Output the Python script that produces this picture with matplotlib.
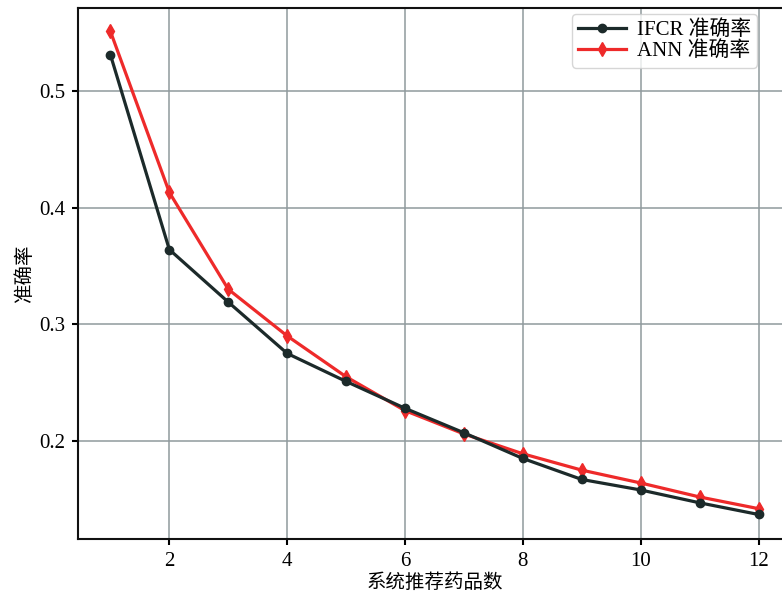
import numpy as np
import matplotlib.pyplot as plt

plt.rcParams['font.family'] = ['Liberation Serif', 'Noto Sans CJK SC']

# number of recommended drugs
n_drugs = [1, 2, 3, 4, 5, 6, 7, 8, 9, 10, 11, 12]
ifcr_acc = [0.531, 0.364, 0.319, 0.275, 0.251, 0.228, 0.207, 0.185, 0.167, 0.158, 0.147, 0.137]
ann_acc = [0.551, 0.413, 0.330, 0.290, 0.255, 0.226, 0.206, 0.189, 0.175, 0.164, 0.152, 0.142]

fig = plt.figure(figsize=(7.82, 5.98), dpi=100)
ax = fig.add_axes([78 / 782, 59 / 598, 713 / 782, 531 / 598])

ax.plot(n_drugs, ann_acc, color='#ee2a2a', lw=2.3, marker='d', ms=7, label='ANN 准确率', zorder=3)
ax.plot(n_drugs, ifcr_acc, color='#1c2a2a', lw=2.3, marker='o', ms=6, label='IFCR 准确率', zorder=4)

ax.set_xlim(0.45, 12.55)
ax.set_ylim(0.116, 0.571)
ax.set_xticks([2, 4, 6, 8, 10, 12])
ax.set_yticks([0.2, 0.3, 0.4, 0.5])
ax.grid(True, color='#8f9a9d', lw=1.1)
ax.tick_params(labelsize=15, width=1.5, length=4, pad=5)
for s in ax.spines.values():
    s.set_linewidth(1.5)
    s.set_color('#111111')

ax.set_xlabel('系统推荐药品数', fontsize=14, labelpad=2)
ax.set_ylabel('准确率', fontsize=14, labelpad=4)

h, l = ax.get_legend_handles_labels()
ax.legend(h[::-1], l[::-1], loc='upper left', bbox_to_anchor=(572 / 782, 1 - 14 / 598),
          bbox_transform=fig.transFigure, borderaxespad=0, fontsize=15,
          handlelength=2.3, borderpad=0.3, labelspacing=0.05, handletextpad=0.5)

fig.savefig('out.png', dpi=100)
